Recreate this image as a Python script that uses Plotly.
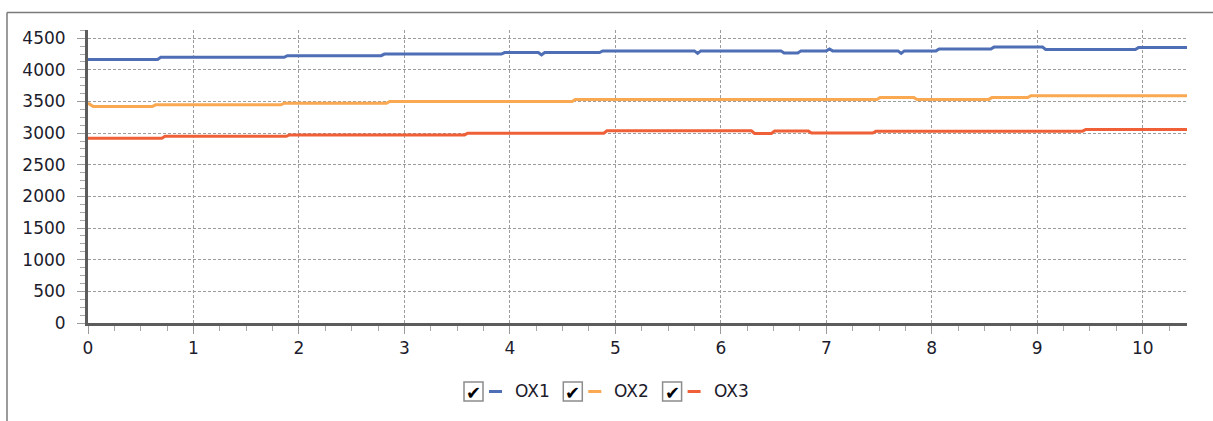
import plotly.graph_objects as go

# ---- data ----
series_names = ["OX1", "OX2", "OX3"]
series_colors = ["rgb(78,110,181)", "rgb(250,168,82)", "rgb(240,96,56)"]

ox1_x = [0, 0.66, 0.69, 1.86, 1.89, 2.78, 2.81, 3.92, 3.95, 4.27, 4.30, 4.33, 4.85, 4.88,
         5.75, 5.78, 5.81, 6.57, 6.60, 6.73, 6.76, 7.00, 7.03, 7.06, 7.68, 7.71, 7.74,
         8.04, 8.07, 8.56, 8.59, 9.05, 9.08, 9.93, 9.96, 10.42]
ox1_y = [4165, 4165, 4198, 4198, 4225, 4225, 4250, 4250, 4274, 4274, 4236, 4274, 4274, 4300,
         4300, 4260, 4300, 4300, 4265, 4265, 4300, 4300, 4330, 4300, 4300, 4260, 4300,
         4300, 4330, 4330, 4360, 4360, 4322, 4322, 4352, 4352]

ox2_x = [0, 0.05, 0.61, 0.64, 1.83, 1.86, 2.83, 2.86, 4.59, 4.62, 7.48, 7.51, 7.83, 7.86,
         8.54, 8.57, 8.91, 8.94, 10.42]
ox2_y = [3475, 3420, 3420, 3447, 3447, 3472, 3472, 3500, 3500, 3533, 3533, 3565, 3565, 3533,
         3533, 3562, 3562, 3590, 3590]

ox3_x = [0, 0.70, 0.73, 1.88, 1.91, 3.57, 3.60, 4.89, 4.92, 6.29, 6.32, 6.48, 6.51, 6.83,
         6.86, 7.44, 7.47, 9.43, 9.46, 10.42]
ox3_y = [2920, 2920, 2950, 2950, 2972, 2972, 3000, 3000, 3036, 3036, 2995, 2995, 3035, 3035,
         3003, 3003, 3032, 3032, 3058, 3058]

series_x = [ox1_x, ox2_x, ox3_x]
series_y = [ox1_y, ox2_y, ox3_y]

x_range = [0, 10.42]
y_range = [0, 4630]

# ---- layout geometry (pixels) ----
W, H = 1213, 421
ML, MR, MT, MB = 88, 26, 30, 98
PW, PH = W - ML - MR, H - MT - MB

def px(xp):
    return (xp - ML) / PW

def py(yp):
    return (H - MB - yp) / PH

FONT = "DejaVu Sans"
TXT = "#1c1c2c"

fig = go.Figure()
for name, color, xs, ys in zip(series_names, series_colors, series_x, series_y):
    fig.add_trace(go.Scatter(x=xs, y=ys, mode="lines", name=name,
                             line=dict(color=color, width=3), showlegend=False))

axis_common = dict(
    showline=True, linecolor="#5c5c5c", linewidth=3,
    showgrid=True, gridcolor="#9c9c9c", gridwidth=1, griddash="3px,2px",
    zeroline=False, ticks="outside", ticklen=8, tickwidth=1, tickcolor="#9a9a9a",
    tickfont=dict(family=FONT, size=17, color=TXT),
)

fig.update_xaxes(range=x_range, dtick=1, tick0=0,
                 minor=dict(dtick=0.25, ticks="outside", ticklen=5, tickcolor="#a8a8a8", showgrid=False),
                 **axis_common)
fig.update_yaxes(range=y_range, dtick=500, tick0=0, ticklabelstandoff=8,
                 minor=dict(dtick=125, ticks="outside", ticklen=5, tickcolor="#a8a8a8", showgrid=False),
                 **axis_common)

shapes = []
annotations = []

# outer frame (top and left edges visible)
shapes.append(dict(type="line", xref="paper", yref="paper",
                   x0=px(7), y0=py(12.5), x1=px(1214), y1=py(12.5),
                   line=dict(color="#7a7a7a", width=1.5)))
shapes.append(dict(type="line", xref="paper", yref="paper",
                   x0=px(7), y0=py(12.5), x1=px(7), y1=py(422),
                   line=dict(color="#7a7a7a", width=1.5)))

# custom legend: checkbox, short line, label
leg_x0 = 464
leg_step = 99.3
leg_y = 391.5
for i, (name, color) in enumerate(zip(series_names, series_colors)):
    bx = leg_x0 + i * leg_step
    shapes.append(dict(type="rect", xref="paper", yref="paper",
                       x0=px(bx), x1=px(bx + 19), y0=py(leg_y - 9.5), y1=py(leg_y + 9.5),
                       line=dict(color="#8c8c8c", width=1.5), fillcolor="white"))
    annotations.append(dict(xref="paper", yref="paper", x=px(bx + 9.5), y=py(leg_y + 1),
                            text="✔", showarrow=False, xanchor="center", yanchor="middle",
                            font=dict(family=FONT, size=18, color="black")))
    shapes.append(dict(type="line", xref="paper", yref="paper",
                       x0=px(bx + 25), x1=px(bx + 38), y0=py(leg_y), y1=py(leg_y),
                       line=dict(color=color, width=3)))
    annotations.append(dict(xref="paper", yref="paper", x=px(bx + 49), y=py(leg_y - 1),
                            text=name, showarrow=False, xanchor="left", yanchor="middle",
                            font=dict(family=FONT, size=17, color=TXT)))

fig.update_layout(
    width=W, height=H,
    margin=dict(l=ML, r=MR, t=MT, b=MB),
    paper_bgcolor="white", plot_bgcolor="white",
    showlegend=False, hovermode=False,
    shapes=shapes, annotations=annotations,
    font=dict(family=FONT, color=TXT),
)

fig.write_html("out.html", config={"displayModeBar": False},
               post_script="document.body.style.margin='0';document.body.style.overflow='hidden';")
